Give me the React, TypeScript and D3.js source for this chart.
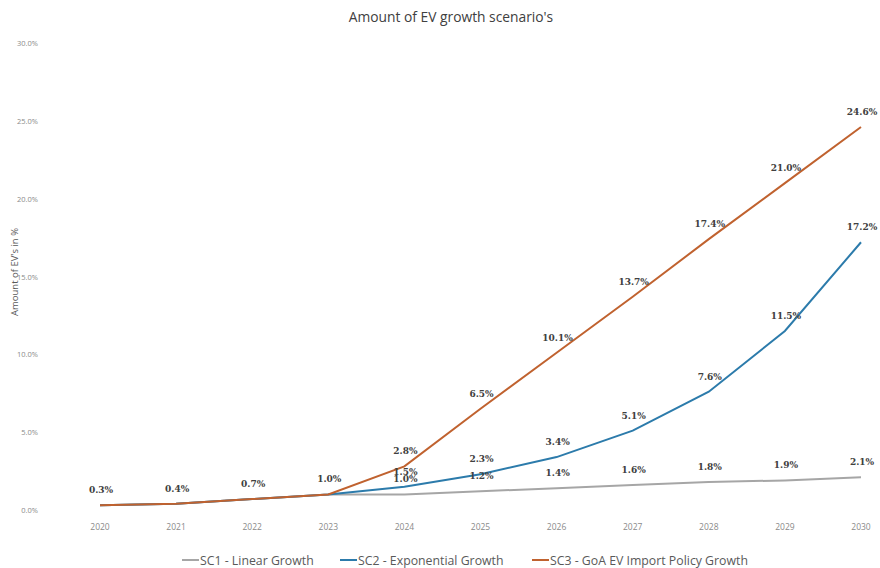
import React from "react";
import * as d3 from "d3";

const years = ["2020", "2021", "2022", "2023", "2024", "2025", "2026", "2027", "2028", "2029", "2030"];
const sc1 = [0.3, 0.4, 0.7, 1.0, 1.0, 1.2, 1.4, 1.6, 1.8, 1.9, 2.1];
const sc2 = [0.3, 0.4, 0.7, 1.0, 1.5, 2.3, 3.4, 5.1, 7.6, 11.5, 17.2];
const sc3 = [0.3, 0.4, 0.7, 1.0, 2.8, 6.5, 10.1, 13.7, 17.4, 21.0, 24.6];
const yTicks = [0, 5, 10, 15, 20, 25, 30];
const seriesNames = ["SC1 - Linear Growth", "SC2 - Exponential Growth", "SC3 - GoA EV Import Policy Growth"];
const colors = ["#a6a6a6", "#2c7bab", "#c0622f"];

export default function App() {
  const W = 880, H = 568;
  const x = d3.scalePoint<string>().domain(years).range([100, 861]);
  const y = d3.scaleLinear().domain([0, 30]).range([510, 43]);
  const line = d3.line<number>().x((_, i) => x(years[i])!).y((d) => y(d));
  const series = [sc1, sc2, sc3];
  const fmt = (v: number) => v.toFixed(1) + "%";
  const legendX = [182, 340, 532];

  return (
    <svg width={W} height={H} style={{ position: "absolute", left: 0, top: 0, background: "#fff" }}>
      <text x={451} y={22} textAnchor="middle" fontFamily="Open Sans, sans-serif" fontSize={13.8} fill="#404040">
        Amount of EV growth scenario's
      </text>
      {yTicks.map((t) => (
        <text key={t} x={38} y={y(t) + 3} textAnchor="end" fontFamily="Open Sans, sans-serif" fontSize={7.5} fill="#8a8a8a">
          {t.toFixed(1) + "%"}
        </text>
      ))}
      <text
        transform={`translate(18,${272}) rotate(-90)`}
        textAnchor="middle"
        fontFamily="Open Sans, sans-serif"
        fontSize={9.5}
        fill="#595959"
      >
        Amount of EV's in %
      </text>
      {years.map((yr) => (
        <text key={yr} x={x(yr)!} y={530} textAnchor="middle" fontFamily="Open Sans, sans-serif" fontSize={8.5} fill="#8a8a8a">
          {yr}
        </text>
      ))}
      {series.map((s, i) => (
        <path key={i} d={line(s) || ""} fill="none" stroke={colors[i]} strokeWidth={2} />
      ))}
      {series.map((s, si) =>
        s.map((v, i) =>
          si > 0 && i < 4 ? null : (
            <text
              key={`${si}-${i}`}
              x={x(years[i])! + 1}
              y={y(v) - 12}
              textAnchor="middle"
              fontFamily="DejaVu Serif, serif"
              fontSize={9}
              fontWeight="bold"
              fill="#404040"
            >
              {fmt(v)}
            </text>
          )
        )
      )}
      {seriesNames.map((n, i) => (
        <g key={n}>
          <line x1={legendX[i]} x2={legendX[i] + 17} y1={560} y2={560} stroke={colors[i]} strokeWidth={2} />
          <text x={legendX[i] + 18} y={564.5} fontFamily="Open Sans, sans-serif" fontSize={12.3} fill="#595959">
            {n}
          </text>
        </g>
      ))}
    </svg>
  );
}
